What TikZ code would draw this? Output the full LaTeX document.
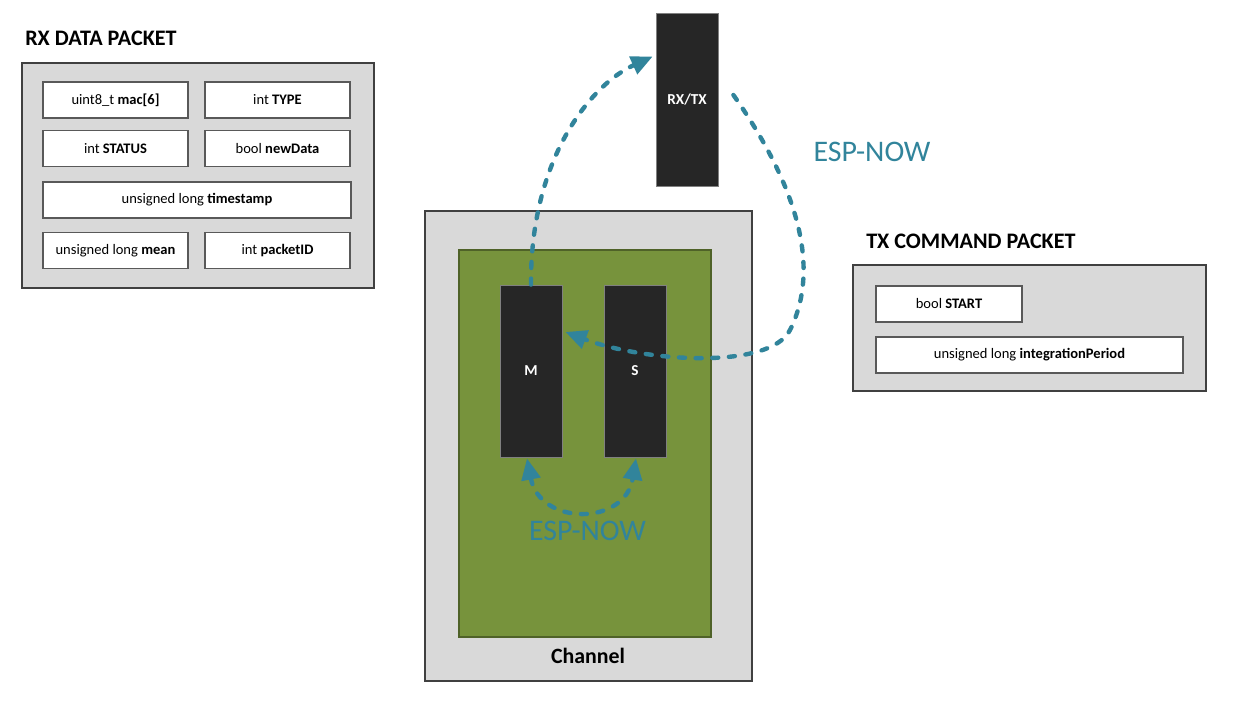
\documentclass[tikz,border=0pt]{standalone}
\usepackage{fontspec}
\setmainfont{Carlito}
\usetikzlibrary{arrows.meta,fit,calc}
\definecolor{boxgray}{HTML}{D9D9D9}
\definecolor{edgegray}{HTML}{404040}
\definecolor{ingray}{HTML}{595959}
\definecolor{leaf}{HTML}{77933C}
\definecolor{leafedge}{HTML}{4F6228}
\definecolor{chip}{HTML}{262626}
\definecolor{espteal}{HTML}{31849B}
\tikzset{
  esptip/.tip={Triangle[length=16pt,width=14pt]},
  sz/.style 2 args={minimum width={#1*0.75pt}, minimum height={#2*0.75pt}},
  panel/.style={draw=edgegray, fill=boxgray, line width=0.8pt, inner sep=0pt},
  field/.style={draw=ingray, fill=white, line width=1pt, inner sep=0pt, font=\fontsize{10.9}{13}\selectfont},
  chipbox/.style={draw=gray, fill=chip, line width=0.6pt, inner sep=0pt, text=white, font=\bfseries\fontsize{11.4}{13}\selectfont},
  title/.style={anchor=west, inner sep=0pt, font=\bfseries\fontsize{16.6}{19}\selectfont},
  espnow/.style={text=espteal, inner sep=0pt, font=\fontsize{22.4}{26}\selectfont},
  link/.style={draw=espteal, line width=3.3pt, line cap=round, dash pattern=on 4.5pt off 8pt, -esptip},
}
\begin{document}
\begin{tikzpicture}[x=0.75pt, y=-0.75pt]
\useasboundingbox (0,0) rectangle (1253,702);

% RX data packet
\node[title] (rxtitle) at (25,38.5) {RX DATA PACKET};
\node[panel, fit={(22,63)(374,288)}] (rxpanel) {};
\node[field, sz={145}{36}] (mac) at (115.5,100) {uint8\_t \textbf{mac[6]}};
\node[field, sz={145}{36}] (type) at (277.5,100) {int \textbf{TYPE}};
\node[field, sz={145}{36}] (status) at (115.5,148.5) {int \textbf{STATUS}};
\node[field, sz={145}{36}] (newdata) at (277.5,148.5) {bool \textbf{newData}};
\node[field, sz={308}{36}] (stamp) at (197,200) {unsigned long \textbf{timestamp}};
\node[field, sz={145}{36}] (mean) at (115.5,250.5) {unsigned long \textbf{mean}};
\node[field, sz={145}{36}] (pid) at (277.5,250.5) {int \textbf{packetID}};

% TX command packet
\node[title] (txtitle) at (866,241) {TX COMMAND PACKET};
\node[panel, fit={(853,265)(1206,391)}] (txpanel) {};
\node[field, sz={146}{36}] (start) at (949,304) {bool \textbf{START}};
\node[field, sz={307}{36}] (period) at (1029.5,355) {unsigned long \textbf{integrationPeriod}};

% Channel
\node[panel, fit={(425,211)(752,681)}] (channel) {};
\node[inner sep=0pt, font=\bfseries\fontsize{16.4}{19}\selectfont] (chlabel) at (588,656) {Channel};
\node[draw=leafedge, fill=leaf, line width=0.8pt, inner sep=0pt, fit={(459,250)(711,637)}] (board) {};
\node[chipbox, sz={62}{172}] (M) at (531,371) {M};
\node[chipbox, sz={62}{172}] (S) at (635,371) {S};

% RX/TX
\node[chipbox, sz={62}{173}] (rxtx) at (687,99.5) {RX/TX};

% labels
\node[espnow] (esp1) at (872,152) {ESP-NOW};
\node[espnow] (esp2) at (587.5,530.5) {ESP-NOW};

% connectors
\coordinate (a1end) at ($(rxtx.north west)+(-3,44)$);
\coordinate (a2start) at ($(rxtx.east)+(15,-4.5)$);
\coordinate (a2end) at ($(M.east)+(3,-39)$);
\coordinate (b1) at ($(M.south)+(-4,1)$);
\coordinate (b2) at ($(S.south)+(1,1)$);

\draw[link] (M.north) .. controls (530,160) and (590,85) .. (a1end);
\draw[link] (a2start) .. controls (800,190) and (820,270) .. (790,330)
  .. controls (770,370) and (645,362) .. (a2end);
\draw[link, esptip-esptip] (b1) .. controls (540,526) and (625,526) .. (b2);
\end{tikzpicture}
\end{document}
